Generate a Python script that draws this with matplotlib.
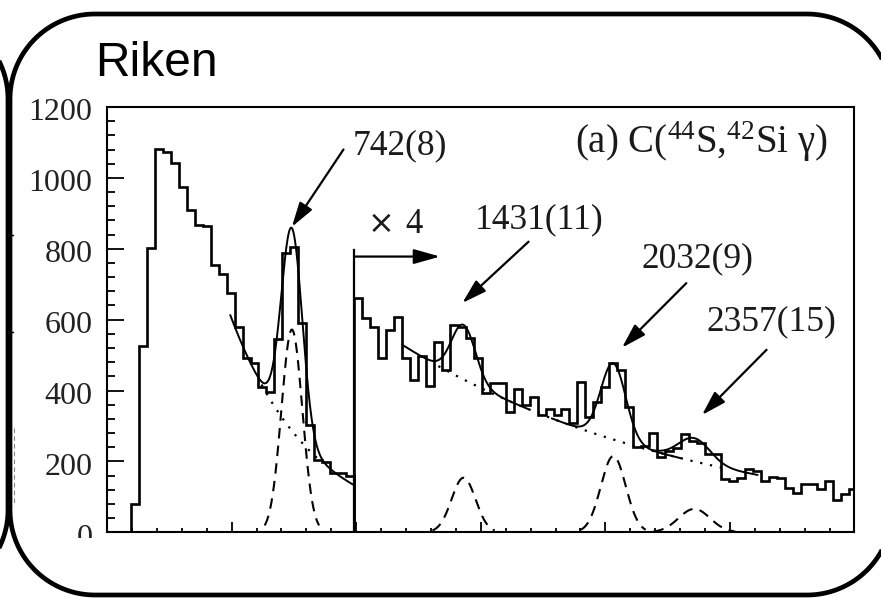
import numpy as np
import matplotlib
matplotlib.use("Agg")
import matplotlib.pyplot as plt
from matplotlib.patches import PathPatch, Rectangle
from matplotlib.path import Path
from matplotlib.ticker import MultipleLocator, NullFormatter
from matplotlib.transforms import ScaledTranslation

plt.rcParams["mathtext.fontset"] = "custom"
plt.rcParams["mathtext.rm"] = "Liberation Serif"
plt.rcParams["mathtext.it"] = "Liberation Serif:italic"
plt.rcParams["mathtext.bf"] = "Liberation Serif:bold"

# ---------------- data ----------------
# gamma-ray spectrum, 32 keV bins
bin_start_kev = 96
bin_width_kev = 32

# counts per bin below the break (bins 0-27)
counts_low = [79, 527, 802, 1081, 1074, 1042, 973, 910, 868, 865,
              755, 729, 675, 580, 491, 477, 411, 397, 545, 788,
              806, 591, 303, 204, 197, 167, 167, 159]

# counts per bin above the break, displayed multiplied by the scale factor
x4_scale = 4
counts_high_x4 = [661, 604, 580, 491, 571, 607, 491, 430, 498, 413,
                  538, 458, 585, 580, 547, 491, 392, 421, 421, 340,
                  404, 359, 381, 331, 347, 331, 347, 308, 423, 326,
                  369, 411, 479, 458, 353, 242, 243, 279, 213, 230,
                  237, 278, 258, 252, 220, 220, 150, 146, 152, 178,
                  172, 145, 157, 152, 124, 111, 135, 135, 121, 146,
                  91, 108, 121]

# exponential backgrounds: value at reference energy and decay length (keV)
bg_low = dict(amp=603, ref=500, decay=325)
bg_high = dict(amp=529, ref=1185, decay=1204)

# fitted gaussian peaks
peak_energies = [742, 1431, 2032, 2357]
peak_errors = [8, 11, 9, 15]
peak_amps = [572, 154, 215, 66]
peak_sigmas = [42, 48, 50, 63]
peak_plot_halfwidth = 2.6   # in sigma
fit_ranges = [(495, 992), (1185, 1690), (1786, 2300), (2193, 2610)]
bg_dotted_ranges = [(620, 860), (1330, 2470)]

# annotation layout
label_pos = [(987, 1066), (1477, 858), (2146, 749), (2407, 569)]
arrow_tails = [(949, 1080), (1692, 820), (2325, 703), (2647, 515)]
arrow_tips = [(742, 862), (1426, 647), (2067, 521), (2388, 331)]
break_marker_top = 797
break_arrow_y = 778
break_arrow_end = 1337
x4_label_pos = (1047, 845)
reaction_label_pos = (2893, 1069)

# ---------------- figure ----------------
W, H = 881, 598
fig = plt.figure(figsize=(W / 100, H / 100), dpi=100)
fig.patch.set_facecolor("white")

ax_l, ax_r, ax_t, ax_b = 107, 854.5, 107, 532.3
ax = fig.add_axes([ax_l / W, (H - ax_b) / H, (ax_r - ax_l) / W, (ax_b - ax_t) / H])

edges = bin_start_kev + bin_width_kev * np.arange(len(counts_low) + len(counts_high_x4) + 1)
n_low = len(counts_low)
split_e = edges[n_low]

hist_kw = dict(color="black", lw=1.9, baseline=0, fill=False)
ax.stairs(counts_low, edges[:n_low + 1], **hist_kw)
ax.stairs(counts_high_x4, edges[n_low:], **hist_kw)


def background(e, p):
    return p["amp"] * np.exp(-(e - p["ref"]) / p["decay"])


def gauss(e, mu, a, s):
    return a * np.exp(-0.5 * ((e - mu) / s) ** 2)


# solid fit curves (background + peak)
for i, (lo, hi) in enumerate(fit_ranges):
    e = np.linspace(lo, hi, 300)
    p = bg_low if i == 0 else bg_high
    ax.plot(e, background(e, p) + gauss(e, peak_energies[i], peak_amps[i], peak_sigmas[i]),
            color="black", lw=1.4)

# dotted backgrounds
for (lo, hi), p in zip(bg_dotted_ranges, [bg_low, bg_high]):
    e = np.linspace(lo, hi, 300)
    ax.plot(e, background(e, p), color="black", lw=1.6, linestyle=(0, (1.0, 3.5)))

# dashed peak components
for mu, a, s in zip(peak_energies, peak_amps, peak_sigmas):
    e = np.linspace(mu - peak_plot_halfwidth * s, mu + peak_plot_halfwidth * s, 200)
    ax.plot(e, gauss(e, mu, a, s), color="black", lw=1.5, linestyle=(0, (5, 3.5)))

# x4 break marker
ax.plot([split_e, split_e], [0, break_marker_top], color="black", lw=1.6)
ax.annotate("", xy=(break_arrow_end, break_arrow_y), xytext=(split_e, break_arrow_y),
            arrowprops=dict(arrowstyle="-|>,head_length=1.6,head_width=0.45",
                            mutation_scale=10, lw=1.6, color="black",
                            shrinkA=0, shrinkB=0))
ax.text(*x4_label_pos, "×", fontsize=23, family="DejaVu Sans",
        ha="left", va="baseline", color="#1a1a1a")
ax.text(x4_label_pos[0] + 150, x4_label_pos[1], f"{x4_scale}", fontsize=25,
        family="Liberation Serif", ha="left", va="baseline", color="#1a1a1a")

serif = dict(family="Liberation Serif", color="#1a1a1a")

# peak labels and arrows
for E, err, lp, tail, tip in zip(peak_energies, peak_errors, label_pos, arrow_tails, arrow_tips):
    ax.text(*lp, f"{E}({err})", fontsize=25.5, ha="left", va="baseline", **serif)
    ax.annotate("", xy=tip, xytext=tail,
                arrowprops=dict(arrowstyle="-|>,head_length=1.5,head_width=0.45",
                                mutation_scale=10, lw=1.6, color="black",
                                shrinkA=0, shrinkB=0))

ax.text(*reaction_label_pos, r"(a) C($^{44}$S,$^{42}$Si γ)", fontsize=28,
        ha="right", va="baseline", **serif)

# axes styling
ax.set_xlim(0, 3000)
ax.set_ylim(0, 1200)
ax.xaxis.set_major_locator(MultipleLocator(500))
ax.xaxis.set_minor_locator(MultipleLocator(100))
ax.yaxis.set_major_locator(MultipleLocator(200))
ax.yaxis.set_minor_locator(MultipleLocator(40))
ax.xaxis.set_major_formatter(NullFormatter())
ax.tick_params(axis="y", which="major", direction="in", length=12, width=1.3,
               pad=10.5, labelsize=23, labelcolor="#222222")
ax.tick_params(axis="y", which="minor", direction="in", length=5.8, width=1.3)
ax.tick_params(axis="x", which="major", direction="in", length=7.2, width=1.3)
ax.tick_params(axis="x", which="minor", direction="in", length=3.2, width=1.3)
ax.tick_params(top=False, right=False, which="both")
shift = ScaledTranslation(0, -2.5 / 100, fig.dpi_scale_trans)
for lbl in ax.get_yticklabels():
    lbl.set_family("Liberation Serif")
    lbl.set_transform(lbl.get_transform() + shift)
for sp in ax.spines.values():
    sp.set_linewidth(1.5)

# ---------------- frame overlay ----------------
ov = fig.add_axes([0, 0, 1, 1], zorder=10)
ov.set_xlim(0, W)
ov.set_ylim(H, 0)
ov.axis("off")
ov.patch.set_alpha(0)

# blank strip below the plot
ov.add_patch(Rectangle((20, 538), 858, 56, facecolor="white", edgecolor="none"))

# title
ov.text(95, 76, "Riken", fontsize=34.5, family="Liberation Sans", ha="left",
        va="baseline", color="black")


def rounded_frame(x0, y0, x1, y1, r, n=40):
    """Closed outline of a rectangle with circular corners."""
    pts = []
    corners = [(x1 - r, y0 + r, -90, 0), (x1 - r, y1 - r, 0, 90),
               (x0 + r, y1 - r, 90, 180), (x0 + r, y0 + r, 180, 270)]
    for cx, cy, a0, a1 in corners:
        t = np.radians(np.linspace(a0, a1, n))
        pts.extend(zip(cx + r * np.cos(t), cy + r * np.sin(t)))
    pts.append(pts[0])
    return Path(pts, closed=True)


r = 85
frame_kw = dict(facecolor="none", edgecolor="black", lw=3.4, joinstyle="round")
ov.add_patch(PathPatch(rounded_frame(10, 14, 892, 595, r), **frame_kw))
ov.add_patch(PathPatch(rounded_frame(-874, 14, 8, 595, r), **frame_kw))

# small marks belonging to the neighbouring panel
ov.plot([9, 13], [235, 235], color="black", lw=1.0)
ov.plot([9, 13], [332, 332], color="black", lw=1.0)
ov.plot([13.5, 13.5], [428, 506], color="#888888", lw=0.8, linestyle=(0, (4, 3)))

fig.savefig("out.png", dpi=100)
